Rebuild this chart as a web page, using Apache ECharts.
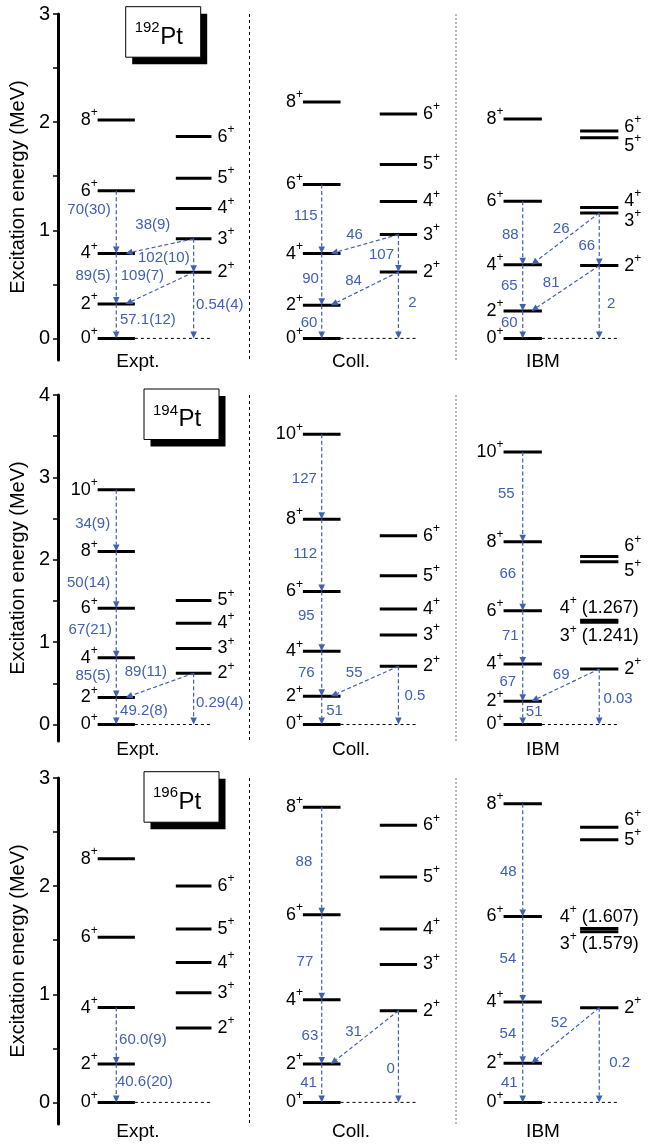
<!DOCTYPE html>
<html><head><meta charset="utf-8">
<script src="https://cdn.jsdelivr.net/npm/echarts@6/dist/echarts.min.js"></script>
<style>html,body{margin:0;padding:0;background:#fff}#c{width:650px;height:1146px}</style>
</head><body><div id="c"></div>
<script>
// ================= DATA =================
const nuclei = ['192', '194', '196'];
const models = ['Expt.', 'Coll.', 'IBM'];
const yMax = [3, 4, 3];
const yMin = -0.2;
const tickValues = [[0, 0.5, 1, 1.5, 2, 2.5, 3], [0, 0.5, 1, 1.5, 2, 2.5, 3, 3.5, 4], [0, 0.5, 1, 1.5, 2, 2.5, 3]];
const tickLabels = [[0, 1, 2, 3], [0, 1, 2, 3, 4], [0, 1, 2, 3]];
const yTitle = 'Excitation energy (MeV)';

// spins
const gsbSpins8 = [0, 2, 4, 6, 8];
const gsbSpins10 = [0, 2, 4, 6, 8, 10];
const gamSpins6 = [2, 3, 4, 5, 6];
const gamSpins5 = [2, 3, 4, 5];

// level energies (MeV)
const e192ExptG = [0, 0.317, 0.785, 1.365, 2.020];
const e192ExptGam = [0.612, 0.921, 1.201, 1.482, 1.866];
const e192CollG = [0, 0.306, 0.784, 1.423, 2.185];
const e192CollGam = [0.614, 0.960, 1.266, 1.608, 2.074];
const e192IbmG = [0, 0.253, 0.682, 1.268, 2.028];
const e192IbmGam = [0.673, 1.160, 1.210, 1.855, 1.917];

const e194ExptG = [0, 0.328, 0.811, 1.412, 2.101, 2.850];
const e194ExptGam = [0.622, 0.923, 1.229, 1.507];
const e194CollG = [0, 0.343, 0.888, 1.616, 2.493, 3.524];
const e194CollGam = [0.707, 1.087, 1.402, 1.806, 2.291];
const e194IbmG = [0, 0.282, 0.736, 1.382, 2.218, 3.309];
const e194IbmGam = [0.675, 1.241, 1.267, 1.976, 2.040];

const e196ExptG = [0, 0.356, 0.877, 1.527, 2.253];
const e196ExptGam = [0.689, 1.015, 1.293, 1.604, 2.002];
const e196CollG = [0, 0.356, 0.949, 1.736, 2.730];
const e196CollGam = [0.847, 1.276, 1.604, 2.085, 2.563];
const e196IbmG = [0, 0.363, 0.928, 1.720, 2.761];
const e196IbmGam = [0.875, 1.579, 1.607, 2.430, 2.544];

// energy notes printed next to nearly degenerate IBM levels
const notes194Ibm = { 3: ' (1.241)', 4: ' (1.267)' };
const notes196Ibm = { 3: ' (1.579)', 4: ' (1.607)' };

// transitions: [from, to, B(E2) in W.u.]  g = ground band, c = gamma band
const tr192Expt = [['g6','g4','70(30)'],['g4','g2','89(5)'],['g2','g0','57.1(12)'],['c3','g4','38(9)'],['c3','c2','102(10)'],['c2','g2','109(7)'],['c2','c0','0.54(4)']];
const tr192Coll = [['g6','g4','115'],['g4','g2','90'],['g2','g0','60'],['c3','g4','46'],['c3','c2','107'],['c2','g2','84'],['c2','c0','2']];
const tr192Ibm  = [['g6','g4','88'],['g4','g2','65'],['g2','g0','60'],['c3','g4','26'],['c3','c2','66'],['c2','g2','81'],['c2','c0','2']];
const tr194Expt = [['g10','g8','34(9)'],['g8','g6','50(14)'],['g6','g4','67(21)'],['g4','g2','85(5)'],['g2','g0','49.2(8)'],['c2','g2','89(11)'],['c2','c0','0.29(4)']];
const tr194Coll = [['g10','g8','127'],['g8','g6','112'],['g6','g4','95'],['g4','g2','76'],['g2','g0','51'],['c2','g2','55'],['c2','c0','0.5']];
const tr194Ibm  = [['g10','g8','55'],['g8','g6','66'],['g6','g4','71'],['g4','g2','67'],['g2','g0','51'],['c2','g2','69'],['c2','c0','0.03']];
const tr196Expt = [['g4','g2','60.0(9)'],['g2','g0','40.6(20)']];
const tr196Coll = [['g8','g6','88'],['g6','g4','77'],['g4','g2','63'],['g2','g0','41'],['c2','g2','31'],['c2','c0','0']];
const tr196Ibm  = [['g8','g6','48'],['g6','g4','54'],['g4','g2','54'],['g2','g0','41'],['c2','g2','52'],['c2','c0','0.2']];

// ================= LAYOUT (positions / styles) =================
const FONT = '"Liberation Sans", Arial, Helvetica, sans-serif';
const BLUE = '#4060b4';
const colX = [[96.7, 134, 175, 210.7], [302.3, 340, 379.3, 416.7], [503.3, 541.7, 580, 618.3]];
const colLabelX = [138, 351, 543];
const colLabelY = [362, 750, 1132];
const gridTop = [14, 395, 778];
const gridH = 346;
const titleBox = [[125.7, 6.7], [144, 389], [144, 771.7]];
const sepX = [249.5, 456];
const diagEndOffset = 28;
// label anchors [x(px), E(MeV)] in the same order as the transitions
const lp192Expt = [[88,1.185],[92,0.574],[147,0.167],[152,1.046],[163,0.741],[141.5,0.574],[219,0.306]];
const lp192Coll = [[305,1.13],[310,0.546],[308.5,0.139],[354,0.954],[381,0.769],[353,0.528],[412,0.324]];
const lp192Ibm  = [[510,0.954],[509,0.484],[509,0.142],[561,1.009],[586.7,0.855],[551,0.512],[611,0.315]];
const lp194Expt = [[91.7,2.44],[87.7,1.725],[89.3,1.148],[92,0.585],[143,0.17],[145,0.634],[219,0.263]];
const lp194Coll = [[303.7,2.985],[304.5,2.069],[305.7,1.313],[305.7,0.622],[334,0.17],[353.7,0.622],[414.5,0.352]];
const lp194Ibm  = [[506,2.796],[507.5,1.826],[510,1.079],[507.5,0.521],[534,0.149],[561,0.602],[618,0.311]];
const lp196Expt = [[142,0.579],[144,0.19]];
const lp196Coll = [[303.3,2.224],[304.3,1.298],[309.3,0.616],[308,0.183],[353,0.656],[390.3,0.307]];
const lp196Ibm  = [[508,2.128],[507.7,1.329],[507.7,0.634],[509,0.183],[559,0.733],[619.5,0.369]];
// pixel shifts of gamma-band spin labels for close-lying pairs
const gamDy192Ibm = { 3: 8, 4: -7, 5: 8, 6: -4 };
const gamDy194Ibm = { 3: 14, 4: -12, 5: 9, 6: -10 };
const gamDy196Ibm = { 3: 12, 4: -12, 5: 0, 6: -7 };

// ================= BUILD =================
const panels = [
  [ {g:e192ExptG, gs:gsbSpins8, c:e192ExptGam, cs:gamSpins6, tr:tr192Expt, lp:lp192Expt},
    {g:e192CollG, gs:gsbSpins8, c:e192CollGam, cs:gamSpins6, tr:tr192Coll, lp:lp192Coll},
    {g:e192IbmG, gs:gsbSpins8, c:e192IbmGam, cs:gamSpins6, tr:tr192Ibm, lp:lp192Ibm, dy:gamDy192Ibm} ],
  [ {g:e194ExptG, gs:gsbSpins10, c:e194ExptGam, cs:gamSpins5, tr:tr194Expt, lp:lp194Expt},
    {g:e194CollG, gs:gsbSpins10, c:e194CollGam, cs:gamSpins6, tr:tr194Coll, lp:lp194Coll},
    {g:e194IbmG, gs:gsbSpins10, c:e194IbmGam, cs:gamSpins6, tr:tr194Ibm, lp:lp194Ibm, dy:gamDy194Ibm, notes:notes194Ibm} ],
  [ {g:e196ExptG, gs:gsbSpins8, c:e196ExptGam, cs:gamSpins6, tr:tr196Expt, lp:lp196Expt},
    {g:e196CollG, gs:gsbSpins8, c:e196CollGam, cs:gamSpins6, tr:tr196Coll, lp:lp196Coll},
    {g:e196IbmG, gs:gsbSpins8, c:e196IbmGam, cs:gamSpins6, tr:tr196Ibm, lp:lp196Ibm, dy:gamDy196Ibm, notes:notes196Ibm} ]
];

const mctx = document.createElement('canvas').getContext('2d');
function tw(t, size) { mctx.font = size + 'px ' + FONT; return mctx.measureText(t).width; }

function spinText(x, y, spin, align, extra) {
  const ns = 18, ss = 12;
  const n = String(spin);
  const nW = tw(n, ns), sW = tw('+', ss), eW = extra ? tw(extra, ns) : 0;
  const tot = nW + sW + eW;
  const left = align === 'right' ? x - tot : (align === 'center' ? x - tot / 2 : x);
  const els = [
    {type:'text', style:{x:left, y:y, text:n, fontSize:ns, fontFamily:FONT, fill:'#000', align:'left', verticalAlign:'middle'}},
    {type:'text', style:{x:left + nW, y:y - 7, text:'+', fontSize:ss, fontFamily:FONT, fill:'#000', align:'left', verticalAlign:'middle'}}
  ];
  if (extra) els.push({type:'text', style:{x:left + nW + sW, y:y, text:extra, fontSize:ns, fontFamily:FONT, fill:'#000', align:'left', verticalAlign:'middle'}});
  return els;
}

function arrowEls(p1, p2) {
  const dx = p2[0] - p1[0], dy = p2[1] - p1[1], L = Math.hypot(dx, dy);
  const ux = dx / L, uy = dy / L, hl = 7, hw = 3.3;
  const bx = p2[0] - ux * hl, by = p2[1] - uy * hl;
  return [
    {type:'line', shape:{x1:p1[0], y1:p1[1], x2:bx, y2:by}, style:{stroke:BLUE, lineWidth:1.2, lineDash:[4, 2.5]}},
    {type:'polygon', shape:{points:[[p2[0], p2[1]], [bx - uy * hw, by + ux * hw], [bx + uy * hw, by - ux * hw]]}, style:{fill:BLUE}}
  ];
}

function buildItems(p) {
  const items = [];
  panels[p].forEach((col, m) => {
    const X = colX[m];
    const gx = (X[0] + X[1]) / 2, cx = (X[2] + X[3]) / 2;
    // zero line to gamma column
    items.push({kind:'zero', x1:X[1], x2:X[3], e:0});
    col.g.forEach((e, i) => items.push({kind:'level', x1:X[0], x2:X[1], e:e, spin:col.gs[i], side:'left'}));
    col.c.forEach((e, i) => {
      const s = col.cs[i];
      const note = col.notes && col.notes[s];
      items.push({kind:'level', x1:X[2], x2:X[3], e:e, spin:s, side: note ? 'center' : 'right',
                  extra: note || '', dy: (col.dy && col.dy[s]) || 0});
    });
    const eOf = key => {
      const band = key[0], s = +key.slice(1);
      if (band === 'g') return col.g[col.gs.indexOf(s)];
      if (s === 0) return 0;
      return col.c[col.cs.indexOf(s)];
    };
    col.tr.forEach((t, k) => {
      const fromC = t[0][0] === 'c', toC = t[1][0] === 'c';
      const x1 = fromC ? cx : gx;
      let x2 = toC ? cx : gx;
      if (fromC && !toC) x2 = X[0] + diagEndOffset;
      items.push({kind:'arrow', a:[x1, eOf(t[0])], b:[x2, eOf(t[1])], text:t[2], lp:col.lp[k]});
    });
  });
  return items;
}

function makeRender(items) {
  return function (params, api) {
    const it = items[params.dataIndex];
    if (it.kind === 'zero') {
      const a = api.coord([it.x1, it.e]), b = api.coord([it.x2, it.e]);
      return {type:'line', shape:{x1:a[0], y1:a[1], x2:b[0], y2:b[1]}, style:{stroke:'#000', lineWidth:1, lineDash:[3, 3]}};
    }
    if (it.kind === 'level') {
      const a = api.coord([it.x1, it.e]), b = api.coord([it.x2, it.e]);
      const ch = [{type:'line', shape:{x1:a[0], y1:a[1], x2:b[0], y2:b[1]}, style:{stroke:'#000', lineWidth:3}}];
      const ly = a[1] + (it.dy || 0);
      if (it.side === 'left') ch.push(...spinText(a[0], ly, it.spin, 'right'));
      else if (it.side === 'right') ch.push(...spinText(b[0] + 6, ly, it.spin, 'left'));
      else ch.push(...spinText((a[0] + b[0]) / 2, ly, it.spin, 'center', it.extra));
      return {type:'group', children:ch};
    }
    const p1 = api.coord(it.a), p2 = api.coord(it.b), lp = api.coord(it.lp);
    const ch = arrowEls(p1, p2);
    ch.push({type:'text', style:{x:lp[0], y:lp[1], text:it.text, fontSize:15, fontFamily:FONT, fill:BLUE, align:'center', verticalAlign:'middle'}});
    return {type:'group', children:ch};
  };
}

const grids = [], xAxes = [], yAxes = [], series = [], graphics = [];
for (let p = 0; p < 3; p++) {
  grids.push({left:57, right:0, top:gridTop[p], height:gridH, containLabel:false});
  xAxes.push({type:'value', gridIndex:p, min:57, max:650, show:false});
  yAxes.push({
    type:'value', gridIndex:p, min:yMin, max:yMax[p],
    name: yTitle, nameLocation:'middle', nameGap:26, nameRotate:90,
    nameTextStyle:{fontSize:20, fontFamily:FONT, color:'#000'},
    axisLine:{show:true, lineStyle:{color:'#000', width:3}},
    axisTick:{show:true, length:5, lineStyle:{color:'#000', width:1.5}, customValues:tickValues[p]},
    axisLabel:{fontSize:20, fontFamily:FONT, color:'#000', margin:8, customValues:tickLabels[p]},
    splitLine:{show:false}
  });
  const items = buildItems(p);
  series.push({
    type:'custom', xAxisIndex:p, yAxisIndex:p, clip:false, silent:true,
    data: items.map(it => it.kind === 'arrow' ? [it.a[0], it.a[1]] : [it.x1, it.e]),
    renderItem: makeRender(items), animation:false
  });
  // separators
  sepX.forEach((x, k) => graphics.push({type:'line', silent:true,
    shape:{x1:x, y1:gridTop[p], x2:x, y2:gridTop[p] + gridH},
    style:{stroke: k === 0 ? '#000' : '#777', lineWidth:1, lineDash: k === 0 ? [3, 3] : [2, 2]}}));
  // column labels
  models.forEach((m, k) => graphics.push({type:'text', silent:true,
    style:{x:colLabelX[k], y:colLabelY[p], text:m, fontSize:19, fontFamily:FONT, fill:'#000', align:'center', verticalAlign:'middle'}}));
  // title box
  const [bx, by] = titleBox[p];
  graphics.push({type:'rect', silent:true, shape:{x:bx + 6.5, y:by + 7, width:75, height:50.5}, style:{fill:'#000'}});
  graphics.push({type:'rect', silent:true, shape:{x:bx, y:by, width:75, height:50.5}, style:{fill:'#fff', stroke:'#000', lineWidth:1}});
  graphics.push({type:'text', silent:true, style:{x:bx + 34, y:by + 21.5, text:nuclei[p], fontSize:15, fontFamily:FONT, fill:'#000', align:'right', verticalAlign:'middle'}});
  graphics.push({type:'text', silent:true, style:{x:bx + 34.5, y:by + 30.5, text:'Pt', fontSize:24, fontFamily:FONT, fill:'#000', align:'left', verticalAlign:'middle'}});
}

const chart = echarts.init(document.getElementById('c'), null, {renderer:'canvas'});
chart.setOption({
  animation:false,
  backgroundColor:'#fff',
  grid:grids, xAxis:xAxes, yAxis:yAxes, series:series,
  graphic:{elements:graphics}
});
</script>
</body></html>
